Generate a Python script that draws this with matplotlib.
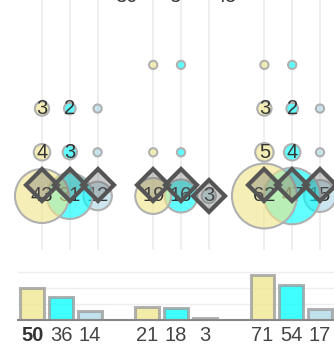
import matplotlib
matplotlib.use("Agg")
import matplotlib.pyplot as plt
import numpy as np

plt.rcParams['font.family'] = ['Liberation Sans', 'DejaVu Sans']

# Column slots (three groups of three, one empty slot between groups)
slots = [0, 1, 2, 4, 5, 6, 8, 9, 10]
colors = ['#f0e68c', '#00ffff', '#add8e6'] * 3

# Bubble rows, top to bottom (row 3 is the top row, row 0 the bottom row)
row3 = [0, 0, 0, 1, 1, 0, 1, 1, 0]
row2 = [3, 2, 1, 0, 0, 0, 3, 2, 1]
row1 = [4, 3, 1, 1, 1, 0, 5, 4, 1]
row0 = [43, 31, 12, 19, 16, 3, 62, 47, 15]
rows = {3: row3, 2: row2, 1: row1, 0: row0}

# Vertical level of the diamond marker on the bottom row
marker_level = [0.25, 0.25, 0.25, 0.25, 0.25, 0.0, 0.25, 0.25, 0.25]

# Column totals shown as bars
totals = [50, 36, 14, 21, 18, 3, 71, 54, 17]
total_labels = ['50', '36', '14', '21', '18', '3', '71', '54', '17']

W, H = 334, 350
fig = plt.figure(figsize=(W / 100, H / 100), dpi=100)
fig.patch.set_facecolor('white')

# ---- bubble panel ----
ax = fig.add_axes([0, 100 / H, 1, 250 / H])
ax.set_xlim(-1.511, 10.504)
ax.set_ylim(-1.236, 4.485)
ax.axis('off')
for s in slots:
    ax.axvline(s, color='#ececec', lw=1.2, zorder=0)

size_k = 35.2  # marker area (pt^2) per unit of value
n = len(slots)
for k, i in enumerate(reversed(range(n))):
    z = 2 + k
    for lvl, vals in rows.items():
        v = vals[i]
        if v <= 0:
            continue
        ax.scatter([slots[i]], [lvl], s=size_k * v, color=colors[i], alpha=0.62,
                   edgecolors='none', zorder=z)
        ax.scatter([slots[i]], [lvl], s=size_k * v, facecolors='none',
                   edgecolors='#b0b0b0', linewidths=1.5, zorder=z + 0.05)
        if v >= 2 or lvl == 0:
            ax.text(slots[i], lvl, str(v), ha='center', va='center',
                    fontsize=14.5, color='#333333', zorder=z + 0.1)

for i in range(n):
    ax.plot([slots[i]], [marker_level[i]], marker='D', ms=16,
            markerfacecolor=(0.42, 0.42, 0.42, 0.35), markeredgecolor='#555555',
            markeredgewidth=3, zorder=60)

# ---- bar panel ----
bx = fig.add_axes([18 / W, 30 / H, 316 / W, 58 / H])
bx.set_xlim(-0.5, 10.487)
bx.set_ylim(0, 90.6)
bx.bar(slots, totals, width=0.83, color=colors, alpha=0.75,
       edgecolor='#999999', linewidth=2.2, zorder=3)
for g in [25, 50, 75]:
    bx.axhline(g, color='#eeeeee', lw=1, zorder=1)
for sp in ['top', 'right', 'left']:
    bx.spines[sp].set_visible(False)
bx.spines['bottom'].set_color('#888888')
bx.spines['bottom'].set_linewidth(1.5)
bx.spines['bottom'].set_zorder(4)
bx.set_yticks([])
bx.set_xticks(slots)
bx.set_xticklabels(total_labels, fontsize=14.5, color='#444444')
bx.tick_params(axis='x', length=0, pad=4.5)
lbls = bx.get_xticklabels()
lbls[0].set_fontweight('bold')
lbls[0].set_color('#333333')

# heading sitting mostly above the visible area
for xp, t in [(126, '30'), (175, '3'), (226, '45')]:
    fig.text(xp / W, 1 - 1.5 / H, t, ha='center', va='baseline',
             fontsize=14.5, color='#333333')

fig.savefig('out.png', dpi=100, facecolor='white')
